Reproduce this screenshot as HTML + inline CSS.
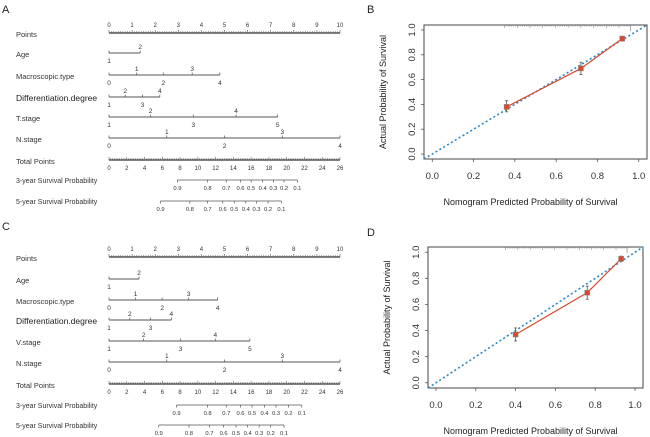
<!DOCTYPE html>
<html><head><meta charset="utf-8"><style>
html,body{margin:0;padding:0;background:#fff;}
svg{display:block;font-family:"Liberation Sans",sans-serif;}
</style></head><body>
<svg id="fig" width="650" height="437" viewBox="0 0 650 437" xmlns="http://www.w3.org/2000/svg">
<text x="2" y="13" font-size="11" fill="#222">A</text>
<text x="367" y="13" font-size="11" fill="#222">B</text>
<text x="2" y="230" font-size="11" fill="#222">C</text>
<text x="367" y="236" font-size="11" fill="#222">D</text>
<g id="gA"></g>
<g id="gC"></g>
<g id="gB"></g>
<g id="gD"></g>
</svg>
<script>
// Nomogram A data (positions in points 0-10, total-point scale 0-26)
const rowNamesA = ["Age","Macroscopic.type","Differentiation.degree","T.stage","N.stage"];
const ageA = [0,1.35];
const macroA = [0,1.2,2.35,3.6,4.8];
const diffA = [0,0.7,1.45,2.2];
const tStageA = [0,1.8,3.65,5.5,7.3];
const nStageA = [0,2.5,5,7.5,10];
const surv3A = [7.7,11.1,13.2,14.8,16.0,17.3,18.5,19.7,21.2];
const surv5A = [5.8,9.1,11.1,12.8,14.1,15.4,16.6,17.9,19.4];
// Nomogram C data
const rowNamesC = ["Age","Macroscopic.type","Differentiation.degree","V.stage","N.stage"];
const ageC = [0,1.3];
const macroC = [0,1.15,2.3,3.45,4.7];
const diffC = [0,0.9,1.8,2.7];
const vStageC = [0,1.5,3.1,4.6,6.1];
const nStageC = [0,2.5,5,7.5,10];
const surv3C = [7.6,11.1,13.2,14.8,16.1,17.5,18.8,20.2,21.7];
const surv5C = [5.6,9.0,11.3,12.9,14.3,15.6,16.9,18.2,19.7];
const survLabels = ["0.9","0.8","0.7","0.6","0.5","0.4","0.3","0.2","0.1"];
const ageLabels = ["1","2"];
const macroLabels = ["0","1","2","3","4"];
const diffLabels = ["1","2","3","4"];
const stageLabels = ["1","2","3","4","5"];
const nLabels = ["0","1","2","3","4"];
// Calibration data
const predB = [0.36,0.72,0.92];
const obsB = [0.38,0.69,0.93];
const loB = [0.34,0.64,0.91];
const hiB = [0.43,0.74,0.95];
const predD = [0.40,0.76,0.93];
const obsD = [0.37,0.69,0.95];
const loD = [0.32,0.64,0.93];
const hiD = [0.42,0.74,0.97];
const calTicks = [0,0.2,0.4,0.6,0.8,1.0];

const NS="http://www.w3.org/2000/svg";
function mk(parent,tag,attrs){const e=document.createElementNS(NS,tag);for(const k in attrs)e.setAttribute(k,attrs[k]);parent.appendChild(e);return e;}
function txt(parent,x,y,s,size,anchor,fill){const t=mk(parent,"text",{x:x,y:y,"font-size":size,"text-anchor":anchor||"start",fill:fill||"#333"});t.textContent=s;return t;}

function nomogram(gid,y0,rowNames,rows,rowLabels,rowYs,s3,s5,sy){
  const g=document.getElementById(gid);
  const X0=109,X1=340;
  const px=v=>X0+v*(X1-X0)/10;
  const tx=v=>X0+v*(X1-X0)/26;
  let t=txt(g,16,y0+4,"Points",7.5);
  
  
  let l=mk(g,"line",{x1:px(0),x2:px(10),y1:y0,y2:y0,stroke:"#333","stroke-width":1.2});
  
  
  for(let i=0;i<=100;i++){const h=i%10===0?3:1.8;mk(g,"line",{x1:px(i/10),x2:px(i/10),y1:y0,y2:y0-h,stroke:"#555","stroke-width":0.6});}
  for(let i=0;i<=10;i++){txt(g,px(i),y0-6,String(i),6,"middle");}
  rows.forEach((vals,r)=>{
    const y=rowYs[r];
    const lt=txt(g,16,y+4,rowNames[r],7.5,"start","#333");
    
    
    if(rowNames[r]==="Differentiation.degree"){lt.setAttribute("font-size","8.5");lt.setAttribute("fill","#222");}
    const ln=mk(g,"line",{x1:px(Math.min(...vals)),x2:px(Math.max(...vals)),y1:y,y2:y,stroke:"#555","stroke-width":1});
    
    
    vals.forEach((v,i)=>{
      mk(g,"line",{x1:px(v),x2:px(v),y1:y-2.5,y2:y,stroke:"#555","stroke-width":0.7});
      const above=i%2===1;
      txt(g,px(v),above?y-4:y+10,rowLabels[r][i],6.5,"middle");
    });
  });
  const ty=rowYs[4]+22;
  let tt=txt(g,16,ty+4,"Total Points",7.5);
  
  
  let tl=mk(g,"line",{x1:tx(0),x2:tx(26),y1:ty,y2:ty,stroke:"#333","stroke-width":1.2});
  
  
  for(let i=0;i<=130;i++){const h=i%10===0?3:1.8;mk(g,"line",{x1:tx(i/5),x2:tx(i/5),y1:ty,y2:ty-h,stroke:"#555","stroke-width":0.6});}
  for(let i=0;i<=26;i+=2){txt(g,tx(i),ty+10,String(i),6,"middle");}
  [[s3,"3-year Survival Probability",sy[0]],[s5,"5-year Survival Probability",sy[1]]].forEach(([arr,name,y])=>{
    const st=txt(g,16,y+3,name,7);
    
    
    const sl=mk(g,"line",{x1:tx(arr[0]),x2:tx(arr[arr.length-1]),y1:y,y2:y,stroke:"#555","stroke-width":0.8});
    
    
    arr.forEach((v,i)=>{mk(g,"line",{x1:tx(v),x2:tx(v),y1:y,y2:y+2.5,stroke:"#555","stroke-width":0.7});txt(g,tx(v),y+10,survLabels[i],5.8,"middle");});
  });
}
nomogram("gA",33,rowNamesA,[ageA,macroA,diffA,tStageA,nStageA],[ageLabels,macroLabels,diffLabels,stageLabels,nLabels],[53,75,97,117,138],surv3A,surv5A,[180,201]);
nomogram("gC",257,rowNamesC,[ageC,macroC,diffC,vStageC,nStageC],[ageLabels,macroLabels,diffLabels,stageLabels,nLabels],[279,300,320,341,362],surv3C,surv5C,[405,425]);

function calib(gid,box,pred,obs,lo,hi){
  const g=document.getElementById(gid);
  const [L,T,R,B]=box;
  const sx=v=>L+(v+0.04)/1.08*(R-L);
  const sy=v=>B-(v+0.04)/1.08*(B-T);
  const fr=mk(g,"rect",{x:L,y:T,width:R-L,height:B-T,fill:"none",stroke:"#444","stroke-width":1});
  
  
  for(let i=0;i<70;i++){const v=0.35+i*0.0088;mk(g,"line",{x1:sx(v),x2:sx(v),y1:T,y2:T+(i%7===0?3:1.5),stroke:"#777","stroke-width":0.5});}
  mk(g,"line",{x1:sx(0.96),x2:sx(0.96),y1:T,y2:T+6,stroke:"#777","stroke-width":0.6});
  calTicks.forEach(v=>{
    mk(g,"line",{x1:sx(v),x2:sx(v),y1:B,y2:B+3,stroke:"#444","stroke-width":0.7});
    txt(g,sx(v),B+20,v.toFixed(1),9.5,"middle","#333");
    mk(g,"line",{x1:L,x2:L-3,y1:sy(v),y2:sy(v),stroke:"#444","stroke-width":0.7});
    const t=txt(g,0,0,v.toFixed(1),9.5,"middle","#333");
    t.setAttribute("transform",`translate(${L-9},${sy(v)}) rotate(-90)`);
  });
  const xt=txt(g,(L+R)/2-5,B+46,"Nomogram Predicted Probability  of Survival",9,"middle","#222");
  
  
  const yt=txt(g,0,0,"Actual Probability of Survival",9,"middle","#222");
  yt.setAttribute("transform",`translate(${L-38},${(T+B)/2}) rotate(-90)`);
  
  
  const d=mk(g,"line",{x1:sx(-0.04),y1:sy(-0.04),x2:sx(1.04),y2:sy(1.04),stroke:"#2a86c8","stroke-width":1.6,"stroke-dasharray":"2,2.5"});
  
  
  const pl=mk(g,"polyline",{points:pred.map((p,i)=>sx(p)+","+sy(obs[i])).join(" "),fill:"none",stroke:"#d9482b","stroke-width":1.2});
  
  
  pred.forEach((p,i)=>{
    const e=mk(g,"line",{x1:sx(p),x2:sx(p),y1:sy(lo[i]),y2:sy(hi[i]),stroke:"#555","stroke-width":0.8});
    
    
    mk(g,"line",{x1:sx(p)-1.5,x2:sx(p)+1.5,y1:sy(lo[i]),y2:sy(lo[i]),stroke:"#555","stroke-width":0.8});
    mk(g,"line",{x1:sx(p)-1.5,x2:sx(p)+1.5,y1:sy(hi[i]),y2:sy(hi[i]),stroke:"#555","stroke-width":0.8});
    const r=mk(g,"rect",{x:sx(p)-2.5,y:sy(obs[i])-2.5,width:5,height:5,fill:"#d9482b",stroke:"#888","stroke-width":0.5});
    
    
  });
}
calib("gB",[424,25,647,159],predB,obsB,loB,hiB);
calib("gD",[428,247,643,388],predD,obsD,loD,hiD);
</script>
</body></html>
